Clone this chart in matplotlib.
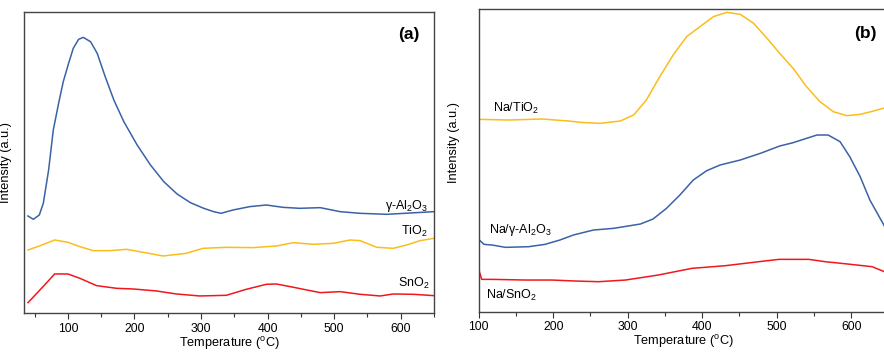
import matplotlib
matplotlib.use("Agg")
import matplotlib.pyplot as plt

plt.rcParams["font.family"] = ["Liberation Sans", "DejaVu Sans"]
plt.rcParams["mathtext.fontset"] = "custom"
plt.rcParams["mathtext.rm"] = "Liberation Sans"
plt.rcParams["mathtext.default"] = "regular"

# ---- panel (a): bare supports ----
al_x = [40, 48, 57, 63, 71, 78, 86, 93, 101, 108, 116, 123, 134, 144, 156, 169,
        184, 204, 224, 244, 264, 284, 304, 319, 330, 348, 373, 398, 423, 448,
        479, 509, 539, 579, 650]
al_y = [292, 282, 295, 330, 430, 550, 630, 695, 750, 795, 822, 828, 815, 780,
        710, 640, 575, 505, 445, 395, 358, 332, 315, 305, 300, 310, 320, 325,
        318, 315, 317, 305, 300, 297, 305]

ti_x = [40, 57, 80, 100, 118, 138, 163, 188, 213, 243, 278, 303, 338, 378, 413,
        439, 469, 499, 524, 539, 564, 589, 609, 629, 650]
ti_y = [190, 202, 220, 213, 200, 188, 188, 192, 183, 172, 180, 195, 198, 197,
        202, 212, 207, 210, 220, 218, 198, 195, 205, 218, 225]

sn_x = [40, 65, 80, 100, 118, 143, 173, 198, 233, 263, 298, 338, 368, 398, 413,
        439, 479, 509, 539, 569, 589, 619, 650]
sn_y = [32, 85, 118, 118, 105, 83, 75, 73, 67, 58, 52, 54, 72, 87, 88, 78, 62,
        65, 57, 52, 58, 57, 53]

# ---- panel (b): Na-loaded supports ----
nati_x = [100, 140, 185, 221, 236, 263, 290, 308, 325, 343, 361, 379, 397, 415,
          433, 451, 469, 487, 504, 522, 540, 558, 576, 594, 612, 630, 650]
nati_y = [577, 575, 578, 572, 568, 565, 572, 590, 635, 705, 770, 825, 855, 885,
          898, 892, 865, 820, 775, 730, 675, 630, 600, 588, 592, 602, 615]

naal_x = [100, 107, 118, 136, 167, 189, 209, 227, 254, 281, 317, 334, 352, 370,
          388, 406, 424, 451, 478, 504, 522, 540, 554, 569, 585, 598, 612, 625,
          650]
naal_y = [217, 202, 200, 193, 195, 202, 215, 230, 245, 250, 263, 278, 310, 350,
          395, 423, 440, 455, 475, 497, 507, 520, 530, 530, 510, 465, 405, 335,
          235]

nasn_x = [100, 104, 118, 163, 198, 230, 261, 297, 341, 386, 431, 476, 503, 543,
          565, 587, 628, 650]
nasn_y = [127, 97, 97, 95, 95, 92, 90, 95, 110, 130, 138, 150, 157, 157, 150,
          145, 135, 115]

BLUE = "#3a62a6"
YELLOW = "#fbbd1b"
RED = "#f0181c"

fig = plt.figure(figsize=(8.84, 3.52), dpi=100)
ax1 = fig.add_axes([24 / 884, 1 - 313.3 / 352, 410 / 884, 301.6 / 352])
ax2 = fig.add_axes([478.7 / 884, 1 - 311.7 / 352, 409.8 / 884, 302.7 / 352])

ax1.plot(al_x, al_y, color=BLUE, lw=1.1)
ax1.plot(ti_x, ti_y, color=YELLOW, lw=1.1)
ax1.plot(sn_x, sn_y, color=RED, lw=1.1)

ax2.plot(nati_x, nati_y, color=YELLOW, lw=1.1)
ax2.plot(naal_x, naal_y, color=BLUE, lw=1.1)
ax2.plot(nasn_x, nasn_y, color=RED, lw=1.1)

for ax in (ax1, ax2):
    ax.set_yticks([])
    ax.set_xticks([100, 200, 300, 400, 500, 600])
    ax.set_xticks([50, 150, 250, 350, 450, 550, 650], minor=True)
    ax.tick_params(axis="x", which="major", direction="out", length=4, width=0.8,
                   labelsize=8.8, pad=3, color="#333333")
    ax.tick_params(axis="x", which="minor", direction="out", length=3, width=0.8,
                   color="#333333")
    for s in ax.spines.values():
        s.set_color("#444444")
        s.set_linewidth(1.0)
    ax.set_xlabel("Temperature ($^{o}$C)", fontsize=9.2, labelpad=0)
    ax.set_ylabel("Intensity (a.u.)", fontsize=9.2)

# limits after ticks so the minor ticks do not widen the view
ax1.set_xlim(34, 650)
ax1.set_ylim(0, 905)
ax2.set_xlim(100, 650)
ax2.set_ylim(0, 908)

ax1.yaxis.set_label_coords(-0.03, 0.5)
ax2.yaxis.set_label_coords(-0.045, 0.56)

ax1.text(0.985, 0.355, "γ-Al$_2$O$_3$", transform=ax1.transAxes, ha="right",
         va="center", fontsize=9)
ax1.text(0.985, 0.27, "TiO$_2$", transform=ax1.transAxes, ha="right",
         va="center", fontsize=9)
ax1.text(0.99, 0.10, "SnO$_2$", transform=ax1.transAxes, ha="right",
         va="center", fontsize=9)
ax1.text(0.965, 0.925, "(a)", transform=ax1.transAxes, ha="right",
         va="center", fontsize=12.5, fontweight="bold")

ax2.text(0.035, 0.67, "Na/TiO$_2$", transform=ax2.transAxes, ha="left",
         va="center", fontsize=9)
ax2.text(0.025, 0.27, "Na/γ-Al$_2$O$_3$", transform=ax2.transAxes, ha="left",
         va="center", fontsize=9)
ax2.text(0.018, 0.055, "Na/SnO$_2$", transform=ax2.transAxes, ha="left",
         va="center", fontsize=9)
ax2.text(0.97, 0.92, "(b)", transform=ax2.transAxes, ha="right",
         va="center", fontsize=12.5, fontweight="bold")

fig.savefig("out.png", dpi=100)
plt.close(fig)
